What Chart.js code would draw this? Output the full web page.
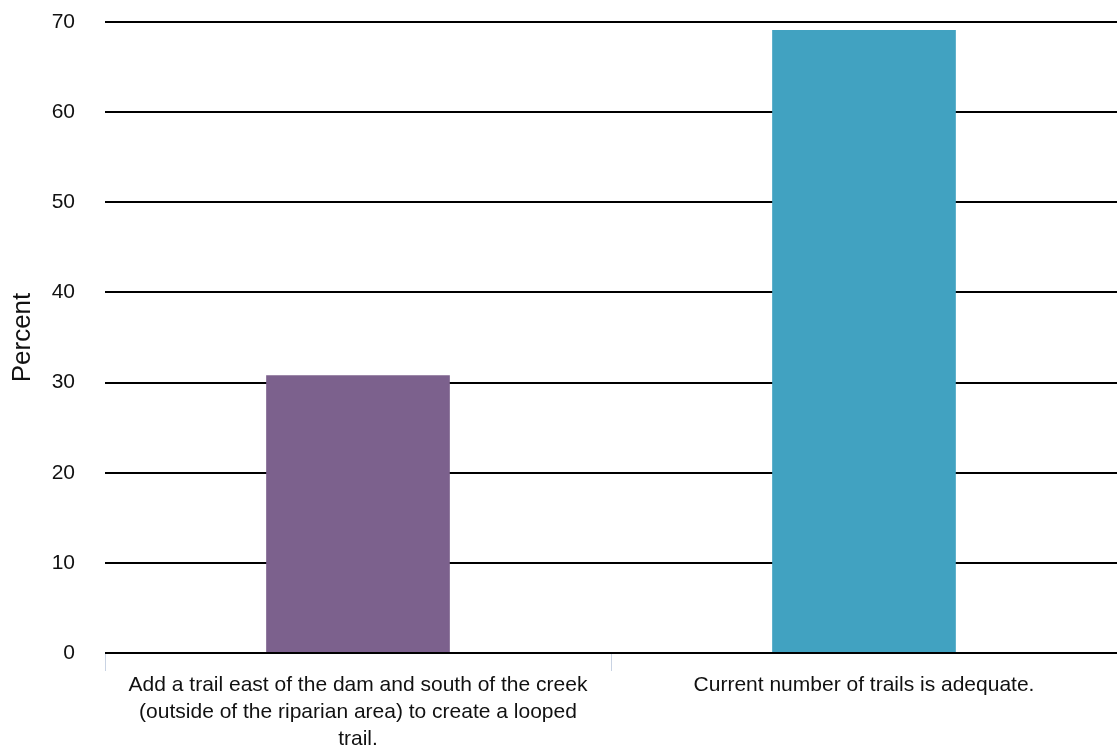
<!DOCTYPE html>
<html>
<head>
<meta charset="utf-8">
<script src="https://cdn.jsdelivr.net/npm/chart.js@4/dist/chart.umd.min.js"></script>
<style>
  html, body { margin: 0; padding: 0; background: #fff; }
  #wrap { width: 1117px; height: 750px; position: relative; }
</style>
</head>
<body>
<div id="wrap"><canvas id="myChart"></canvas></div>
<script>
"use strict";
// chart data
const categories = [
  ["Add a trail east of the dam and south of the creek", "(outside of the riparian area) to create a looped", "trail."],
  "Current number of trails is adequate."
];
const percentValues = [30.8, 69.1];
const barColors = ["#7c618d", "#41a2c1"];
const yTicks = [0, 10, 20, 30, 40, 50, 60, 70];

const fontFamily = "'Liberation Sans', Arial, Helvetica, sans-serif";

const data = {
  labels: categories,
  datasets: [
    {
      label: "Percent",
      data: percentValues,
      backgroundColor: barColors,
      borderWidth: 0,
      barPercentage: 0.363,
      categoryPercentage: 1,
    },
  ],
};

const config = {
  type: "bar",
  data: data,
  options: {
    responsive: true,
    maintainAspectRatio: false,
    animation: false,
    // plot area runs slightly past the right edge, like the original
    layout: { autoPadding: false, padding: { top: 22, right: -8, bottom: 0, left: 0 } },
    plugins: {
      legend: { display: false },
      tooltip: { enabled: false },
    },
    scales: {
      x: {
        afterFit: (scale) => {
          scale.height = 97;
        },
        grid: {
          offset: true,
          drawOnChartArea: false,
          drawTicks: true,
          tickLength: 18,
          color: "#c9d3e3",
        },
        border: { display: false },
        ticks: {
          color: "#111",
          font: { family: fontFamily, size: 21, lineHeight: 1.28 },
          padding: 1,
          maxRotation: 0,
          autoSkip: false,
        },
      },
      y: {
        min: 0,
        max: 70,
        afterBuildTicks: (axis) => {
          axis.ticks = yTicks.map((v) => ({ value: v }));
        },
        afterFit: (scale) => {
          scale.width = 105;
          // tick padding would otherwise push the top/bottom of the axis inward
          scale.paddingTop = 0;
          scale.paddingBottom = 0;
        },
        grid: {
          color: "#000",
          lineWidth: 2,
          drawTicks: false,
        },
        border: { display: false },
        ticks: {
          color: "#111",
          font: { family: fontFamily, size: 21 },
          padding: 30,
        },
        title: {
          display: true,
          text: "Percent",
          color: "#111",
          font: { family: fontFamily, size: 26 },
          padding: { top: 7, bottom: 14 },
        },
      },
    },
  },
};

const myChart = new Chart(document.getElementById("myChart"), config);
</script>
</body>
</html>
